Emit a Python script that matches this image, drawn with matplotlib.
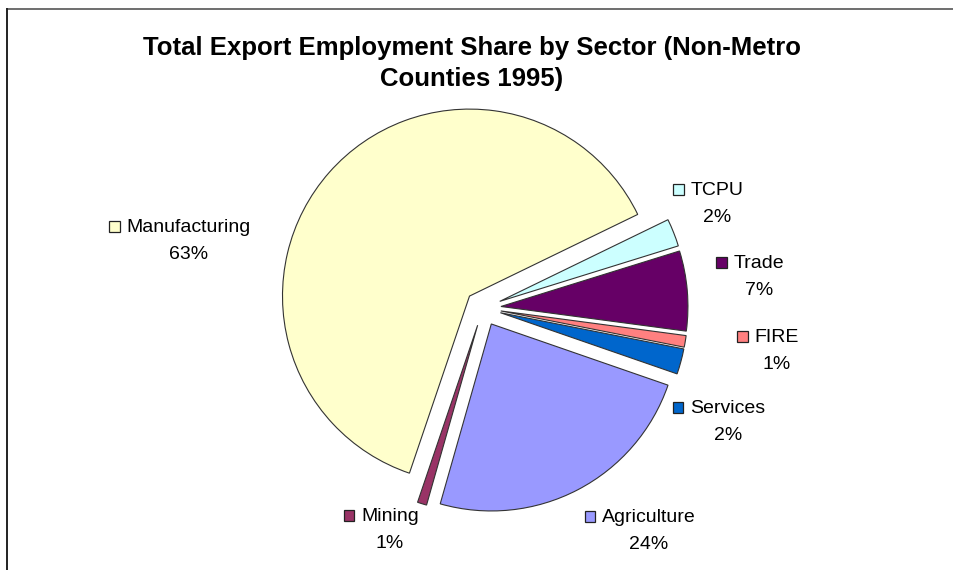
import matplotlib
matplotlib.use("Agg")
import matplotlib.pyplot as plt
from matplotlib.patches import Rectangle
from matplotlib.lines import Line2D

# Export employment share by sector, non-metro counties, 1995 (percent)
sectors = ["Agriculture", "Mining", "Manufacturing", "TCPU", "Trade", "FIRE", "Services"]
shares = [24.1, 0.8, 62.6, 2.4, 6.9, 1.0, 2.2]
colors = ["#9999FF", "#993366", "#FFFFCC", "#CCFFFF", "#660066", "#FF8080", "#0066CC"]

title_lines = ["Total Export Employment Share by Sector (Non-Metro", "Counties 1995)"]

# label anchors in pixel coordinates (name centre x, name baseline y from top)
label_anchor = {
    "Agriculture": (649, 522),
    "Mining": (390, 521),
    "Manufacturing": (189, 232),
    "TCPU": (717, 195),
    "Trade": (759, 268),
    "FIRE": (777, 342),
    "Services": (728, 413),
}

W, H = 954, 570
DPI = 100
plt.rcParams["font.family"] = ["Liberation Sans", "DejaVu Sans"]

fig = plt.figure(figsize=(W / DPI, H / DPI), dpi=DPI)
ax = fig.add_axes([0, 0, 1, 1])

def py(y):
    return H - y

ax.pie(
    shares,
    colors=colors,
    startangle=-19.1,
    counterclock=False,
    explode=[18] * len(shares),
    radius=187,
    center=(483, py(308)),
    wedgeprops=dict(edgecolor="#333333", linewidth=0.8),
    frame=True,
)
ax.set_xlim(0, W)
ax.set_ylim(0, H)
ax.set_aspect("equal", adjustable="box")
ax.axis("off")

# chart frame (top and left edges)
fig.add_artist(Line2D([7 / W, 1], [1 - 8.5 / H, 1 - 8.5 / H], color="#555555", lw=1.2))
fig.add_artist(Line2D([7 / W, 7 / W], [0, 1 - 8.5 / H], color="#222222", lw=1.4))

# title
ax.text(472, py(55), title_lines[0], ha="center", va="baseline",
        fontsize=18.5, fontweight="bold", color="black")
ax.text(472, py(86), title_lines[1], ha="center", va="baseline",
        fontsize=18.5, fontweight="bold", color="black")

fig.canvas.draw()
renderer = fig.canvas.get_renderer()
total = sum(shares)
box = 10.5
for name, val, col in zip(sectors, shares, colors):
    cx, by = label_anchor[name]
    t = ax.text(cx, py(by), name, ha="center", va="baseline", fontsize=14, color="black")
    ax.text(cx, py(by + 27), f"{val / total * 100:.0f}%", ha="center", va="baseline",
            fontsize=14, color="black")
    bb = t.get_window_extent(renderer)
    x0 = bb.x0 - 7 - box
    ax.add_patch(Rectangle((x0, py(by) + 0.5), box, box, facecolor=col,
                           edgecolor="#222222", linewidth=0.9))

fig.savefig("out.png", dpi=DPI)
